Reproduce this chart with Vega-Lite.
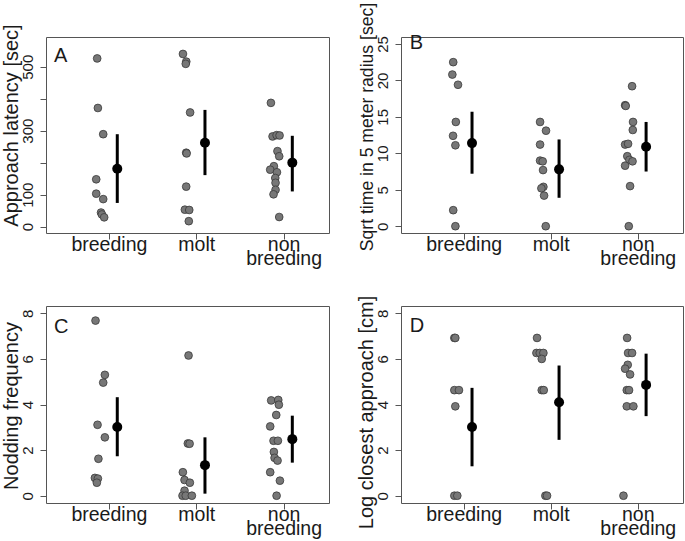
{
  "$schema": "https://vega.github.io/schema/vega-lite/v6.json",
  "autosize": {"type": "pad"},
  "padding": {"left": 0, "top": 1, "right": 0, "bottom": 0},
  "background": "white",
  "config": {
    "font": "Liberation Sans",
    "view": {"stroke": "#555555", "strokeWidth": 1},
    "axis": {
      "grid": false, "domain": false, "tickColor": "#555555", "tickSize": 6,
      "labelColor": "#1a1a1a", "titleColor": "#1a1a1a", "titleFontWeight": "normal",
      "labelFont": "Liberation Sans", "titleFont": "Liberation Sans", "labelOverlap": false, "labelFlush": false
    },
    "axisX": {"labelFontSize": 19.5, "labelPadding": -4, "labelBaseline": "top", "labelLineHeight": 14.5, "title": null},
    "axisY": {"labelFontSize": 15, "labelAngle": -90, "labelAlign": "center", "labelBaseline": "alphabetic", "labelPadding": 8, "titleFontSize": 20, "titleAngle": -90, "titleBaseline": "alphabetic", "titleAlign": "center", "titleX": -29}
  },
  "datasets": {
    "obs": [
      {"p":"A","g":"breeding","x":0.866,"y":526},{"p":"A","g":"breeding","x":0.874,"y":371},{"p":"A","g":"breeding","x":0.935,"y":289},{"p":"A","g":"breeding","x":0.855,"y":148},{"p":"A","g":"breeding","x":0.855,"y":103},{"p":"A","g":"breeding","x":0.935,"y":86},{"p":"A","g":"breeding","x":0.91,"y":44},{"p":"A","g":"breeding","x":0.92,"y":38},{"p":"A","g":"breeding","x":0.946,"y":29},
      {"p":"A","g":"molt","x":1.848,"y":540},{"p":"A","g":"molt","x":1.886,"y":516},{"p":"A","g":"molt","x":1.88,"y":509},{"p":"A","g":"molt","x":1.93,"y":357},{"p":"A","g":"molt","x":1.885,"y":231},{"p":"A","g":"molt","x":1.89,"y":229},{"p":"A","g":"molt","x":1.885,"y":125},{"p":"A","g":"molt","x":1.87,"y":53},{"p":"A","g":"molt","x":1.92,"y":52},{"p":"A","g":"molt","x":1.915,"y":17},
      {"p":"A","g":"non breeding","x":2.855,"y":387},{"p":"A","g":"non breeding","x":2.874,"y":282},{"p":"A","g":"non breeding","x":2.92,"y":286},{"p":"A","g":"non breeding","x":2.954,"y":285},{"p":"A","g":"non breeding","x":2.93,"y":236},{"p":"A","g":"non breeding","x":2.95,"y":220},{"p":"A","g":"non breeding","x":2.889,"y":189},{"p":"A","g":"non breeding","x":2.847,"y":178},{"p":"A","g":"non breeding","x":2.924,"y":170},{"p":"A","g":"non breeding","x":2.905,"y":152},{"p":"A","g":"non breeding","x":2.908,"y":137},{"p":"A","g":"non breeding","x":2.908,"y":115},{"p":"A","g":"non breeding","x":2.885,"y":101},{"p":"A","g":"non breeding","x":2.95,"y":30},
      {"p":"B","g":"breeding","x":0.88,"y":22.5},{"p":"B","g":"breeding","x":0.87,"y":20.8},{"p":"B","g":"breeding","x":0.935,"y":19.4},{"p":"B","g":"breeding","x":0.91,"y":14.3},{"p":"B","g":"breeding","x":0.878,"y":12.4},{"p":"B","g":"breeding","x":0.905,"y":11.1},{"p":"B","g":"breeding","x":0.88,"y":2.2},{"p":"B","g":"breeding","x":0.905,"y":0},
      {"p":"B","g":"molt","x":1.878,"y":14.3},{"p":"B","g":"molt","x":1.946,"y":13.1},{"p":"B","g":"molt","x":1.878,"y":11.2},{"p":"B","g":"molt","x":1.878,"y":9.0},{"p":"B","g":"molt","x":1.908,"y":8.9},{"p":"B","g":"molt","x":1.912,"y":7.7},{"p":"B","g":"molt","x":1.916,"y":5.4},{"p":"B","g":"molt","x":1.893,"y":5.2},{"p":"B","g":"molt","x":1.924,"y":4.2},{"p":"B","g":"molt","x":1.943,"y":0},
      {"p":"B","g":"non breeding","x":2.935,"y":19.2},{"p":"B","g":"non breeding","x":2.855,"y":16.6},{"p":"B","g":"non breeding","x":2.862,"y":16.5},{"p":"B","g":"non breeding","x":2.946,"y":14.3},{"p":"B","g":"non breeding","x":2.943,"y":13.2},{"p":"B","g":"non breeding","x":2.855,"y":11.2},{"p":"B","g":"non breeding","x":2.889,"y":11.3},{"p":"B","g":"non breeding","x":2.88,"y":9.6},{"p":"B","g":"non breeding","x":2.904,"y":9.1},{"p":"B","g":"non breeding","x":2.94,"y":8.9},{"p":"B","g":"non breeding","x":2.855,"y":8.3},{"p":"B","g":"non breeding","x":2.912,"y":5.5},{"p":"B","g":"non breeding","x":2.897,"y":0},
      {"p":"C","g":"breeding","x":0.847,"y":7.68},{"p":"C","g":"breeding","x":0.954,"y":5.3},{"p":"C","g":"breeding","x":0.935,"y":4.96},{"p":"C","g":"breeding","x":0.87,"y":3.11},{"p":"C","g":"breeding","x":0.954,"y":2.56},{"p":"C","g":"breeding","x":0.88,"y":1.62},{"p":"C","g":"breeding","x":0.84,"y":0.78},{"p":"C","g":"breeding","x":0.874,"y":0.75},{"p":"C","g":"breeding","x":0.862,"y":0.57},
      {"p":"C","g":"molt","x":1.912,"y":6.15},{"p":"C","g":"molt","x":1.904,"y":2.29},{"p":"C","g":"molt","x":1.924,"y":2.28},{"p":"C","g":"molt","x":1.847,"y":1.03},{"p":"C","g":"molt","x":1.866,"y":0.69},{"p":"C","g":"molt","x":1.927,"y":0.57},{"p":"C","g":"molt","x":1.866,"y":0.22},{"p":"C","g":"molt","x":1.843,"y":0},{"p":"C","g":"molt","x":1.88,"y":0},{"p":"C","g":"molt","x":1.95,"y":0},
      {"p":"C","g":"non breeding","x":2.858,"y":4.18},{"p":"C","g":"non breeding","x":2.939,"y":4.2},{"p":"C","g":"non breeding","x":2.946,"y":3.99},{"p":"C","g":"non breeding","x":2.916,"y":3.54},{"p":"C","g":"non breeding","x":2.847,"y":3.04},{"p":"C","g":"non breeding","x":2.885,"y":2.41},{"p":"C","g":"non breeding","x":2.935,"y":2.41},{"p":"C","g":"non breeding","x":2.889,"y":1.92},{"p":"C","g":"non breeding","x":2.897,"y":1.66},{"p":"C","g":"non breeding","x":2.931,"y":1.54},{"p":"C","g":"non breeding","x":2.847,"y":1.03},{"p":"C","g":"non breeding","x":2.958,"y":0.66},{"p":"C","g":"non breeding","x":2.92,"y":0},
      {"p":"D","g":"breeding","x":0.893,"y":6.92},{"p":"D","g":"breeding","x":0.904,"y":6.92},{"p":"D","g":"breeding","x":0.893,"y":4.63},{"p":"D","g":"breeding","x":0.946,"y":4.63},{"p":"D","g":"breeding","x":0.904,"y":3.92},{"p":"D","g":"breeding","x":0.893,"y":0},{"p":"D","g":"breeding","x":0.927,"y":0},
      {"p":"D","g":"molt","x":1.843,"y":6.92},{"p":"D","g":"molt","x":1.836,"y":6.26},{"p":"D","g":"molt","x":1.874,"y":6.26},{"p":"D","g":"molt","x":1.916,"y":6.26},{"p":"D","g":"molt","x":1.897,"y":6.0},{"p":"D","g":"molt","x":1.897,"y":4.63},{"p":"D","g":"molt","x":1.92,"y":4.63},{"p":"D","g":"molt","x":1.939,"y":0},{"p":"D","g":"molt","x":1.958,"y":0},
      {"p":"D","g":"non breeding","x":2.878,"y":6.92},{"p":"D","g":"non breeding","x":2.889,"y":6.26},{"p":"D","g":"non breeding","x":2.935,"y":6.26},{"p":"D","g":"non breeding","x":2.885,"y":5.74},{"p":"D","g":"non breeding","x":2.855,"y":5.57},{"p":"D","g":"non breeding","x":2.912,"y":5.32},{"p":"D","g":"non breeding","x":2.874,"y":4.63},{"p":"D","g":"non breeding","x":2.9,"y":4.63},{"p":"D","g":"non breeding","x":2.874,"y":3.92},{"p":"D","g":"non breeding","x":2.95,"y":3.92},{"p":"D","g":"non breeding","x":2.836,"y":0}
    ],
    "means": [
      {"p":"A","g":"breeding","x":1.096,"y":181,"lo":74,"hi":289},{"p":"A","g":"molt","x":2.1,"y":262,"lo":161,"hi":365},{"p":"A","g":"non breeding","x":3.1,"y":200,"lo":110,"hi":284},
      {"p":"B","g":"breeding","x":1.096,"y":11.4,"lo":7.2,"hi":15.7},{"p":"B","g":"molt","x":2.096,"y":7.8,"lo":3.9,"hi":11.9},{"p":"B","g":"non breeding","x":3.096,"y":10.9,"lo":7.5,"hi":14.3},
      {"p":"C","g":"breeding","x":1.096,"y":3.01,"lo":1.73,"hi":4.32},{"p":"C","g":"molt","x":2.1,"y":1.34,"lo":0.09,"hi":2.56},{"p":"C","g":"non breeding","x":3.1,"y":2.48,"lo":1.45,"hi":3.51},
      {"p":"D","g":"breeding","x":1.096,"y":3.01,"lo":1.29,"hi":4.73},{"p":"D","g":"molt","x":2.096,"y":4.1,"lo":2.45,"hi":5.71},{"p":"D","g":"non breeding","x":3.096,"y":4.86,"lo":3.49,"hi":6.23}
    ],
    "letters": [
      {"p":"A","lbl":"A","x":0.372,"y":515},{"p":"B","lbl":"B","x":0.38,"y":24.27},{"p":"C","lbl":"C","x":0.372,"y":7.15},{"p":"D","lbl":"D","x":0.38,"y":7.2}
    ]
  },
  "concat": [
    {
      "width": 283, "height": 196,
      "encoding": {
        "x": {"field": "x", "type": "quantitative", "scale": {"domain": [0.28, 3.52], "nice": false, "zero": false},
              "axis": {"values": [1, 2, 3], "labelExpr": "datum.value == 1 ? 'breeding' : datum.value == 2 ? 'molt' : ['non', 'breeding']"}},
        "y": {"field": "y", "type": "quantitative", "scale": {"domain": [-20, 593], "nice": false, "zero": false},
              "axis": {"values": [0, 100, 200, 300, 400, 500], "labelExpr": "datum.value == 200 || datum.value == 400 ? '' : datum.label", "title": "Approach latency [sec]", "titleY": 88}}
      },
      "layer": [
        {"data": {"name": "obs"}, "transform": [{"filter": "datum.p == 'A'"}],
         "mark": {"type": "point", "filled": true, "fill": "#777777", "stroke": "#3a3a3a", "strokeWidth": 0.8, "size": 60, "opacity": 1}},
        {"data": {"name": "means"}, "transform": [{"filter": "datum.p == 'A'"}],
         "mark": {"type": "rule", "color": "black", "strokeWidth": 3},
         "encoding": {"y": {"field": "lo", "type": "quantitative"}, "y2": {"field": "hi"}}},
        {"data": {"name": "means"}, "transform": [{"filter": "datum.p == 'A'"}],
         "mark": {"type": "point", "filled": true, "color": "black", "size": 100, "opacity": 1}},
        {"data": {"name": "letters"}, "transform": [{"filter": "datum.p == 'A'"}],
         "mark": {"type": "text", "align": "left", "baseline": "alphabetic", "fontSize": 20, "color": "#1a1a1a"},
         "encoding": {"text": {"field": "lbl", "type": "nominal"}}}
      ]
    },
    {
      "width": 282, "height": 196,
      "encoding": {
        "x": {"field": "x", "type": "quantitative", "scale": {"domain": [0.28, 3.52], "nice": false, "zero": false},
              "axis": {"values": [1, 2, 3], "labelExpr": "datum.value == 1 ? 'breeding' : datum.value == 2 ? 'molt' : ['non', 'breeding']"}},
        "y": {"field": "y", "type": "quantitative", "scale": {"domain": [-0.93, 25.95], "nice": false, "zero": false},
              "axis": {"values": [0, 5, 10, 15, 20, 25], "title": "Sqrt time in 5 meter radius [sec]", "titleFontSize": 17.6, "titleY": 89.5}}
      },
      "layer": [
        {"data": {"name": "obs"}, "transform": [{"filter": "datum.p == 'B'"}],
         "mark": {"type": "point", "filled": true, "fill": "#777777", "stroke": "#3a3a3a", "strokeWidth": 0.8, "size": 60, "opacity": 1}},
        {"data": {"name": "means"}, "transform": [{"filter": "datum.p == 'B'"}],
         "mark": {"type": "rule", "color": "black", "strokeWidth": 3},
         "encoding": {"y": {"field": "lo", "type": "quantitative"}, "y2": {"field": "hi"}}},
        {"data": {"name": "means"}, "transform": [{"filter": "datum.p == 'B'"}],
         "mark": {"type": "point", "filled": true, "color": "black", "size": 100, "opacity": 1}},
        {"data": {"name": "letters"}, "transform": [{"filter": "datum.p == 'B'"}],
         "mark": {"type": "text", "align": "left", "baseline": "alphabetic", "fontSize": 20, "color": "#1a1a1a"},
         "encoding": {"text": {"field": "lbl", "type": "nominal"}}}
      ]
    },
    {
      "width": 283, "height": 197,
      "encoding": {
        "x": {"field": "x", "type": "quantitative", "scale": {"domain": [0.28, 3.52], "nice": false, "zero": false},
              "axis": {"values": [1, 2, 3], "labelExpr": "datum.value == 1 ? 'breeding' : datum.value == 2 ? 'molt' : ['non', 'breeding']"}},
        "y": {"field": "y", "type": "quantitative", "scale": {"domain": [-0.32, 8.32], "nice": false, "zero": false},
              "axis": {"values": [0, 2, 4, 6, 8], "title": "Nodding frequency", "titleY": 99.5}}
      },
      "layer": [
        {"data": {"name": "obs"}, "transform": [{"filter": "datum.p == 'C'"}],
         "mark": {"type": "point", "filled": true, "fill": "#777777", "stroke": "#3a3a3a", "strokeWidth": 0.8, "size": 60, "opacity": 1}},
        {"data": {"name": "means"}, "transform": [{"filter": "datum.p == 'C'"}],
         "mark": {"type": "rule", "color": "black", "strokeWidth": 3},
         "encoding": {"y": {"field": "lo", "type": "quantitative"}, "y2": {"field": "hi"}}},
        {"data": {"name": "means"}, "transform": [{"filter": "datum.p == 'C'"}],
         "mark": {"type": "point", "filled": true, "color": "black", "size": 100, "opacity": 1}},
        {"data": {"name": "letters"}, "transform": [{"filter": "datum.p == 'C'"}],
         "mark": {"type": "text", "align": "left", "baseline": "alphabetic", "fontSize": 20, "color": "#1a1a1a"},
         "encoding": {"text": {"field": "lbl", "type": "nominal"}}}
      ]
    },
    {
      "width": 282, "height": 197,
      "encoding": {
        "x": {"field": "x", "type": "quantitative", "scale": {"domain": [0.28, 3.52], "nice": false, "zero": false},
              "axis": {"values": [1, 2, 3], "labelExpr": "datum.value == 1 ? 'breeding' : datum.value == 2 ? 'molt' : ['non', 'breeding']"}},
        "y": {"field": "y", "type": "quantitative", "scale": {"domain": [-0.32, 8.32], "nice": false, "zero": false},
              "axis": {"values": [0, 2, 4, 6, 8], "title": "Log closest approach [cm]", "titleY": 106}}
      },
      "layer": [
        {"data": {"name": "obs"}, "transform": [{"filter": "datum.p == 'D'"}],
         "mark": {"type": "point", "filled": true, "fill": "#777777", "stroke": "#3a3a3a", "strokeWidth": 0.8, "size": 60, "opacity": 1}},
        {"data": {"name": "means"}, "transform": [{"filter": "datum.p == 'D'"}],
         "mark": {"type": "rule", "color": "black", "strokeWidth": 3},
         "encoding": {"y": {"field": "lo", "type": "quantitative"}, "y2": {"field": "hi"}}},
        {"data": {"name": "means"}, "transform": [{"filter": "datum.p == 'D'"}],
         "mark": {"type": "point", "filled": true, "color": "black", "size": 100, "opacity": 1}},
        {"data": {"name": "letters"}, "transform": [{"filter": "datum.p == 'D'"}],
         "mark": {"type": "text", "align": "left", "baseline": "alphabetic", "fontSize": 20, "color": "#1a1a1a"},
         "encoding": {"text": {"field": "lbl", "type": "nominal"}}}
      ]
    }
  ],
  "columns": 2,
  "spacing": {"row": 73, "column": 72},
  "bounds": "flush"
}
